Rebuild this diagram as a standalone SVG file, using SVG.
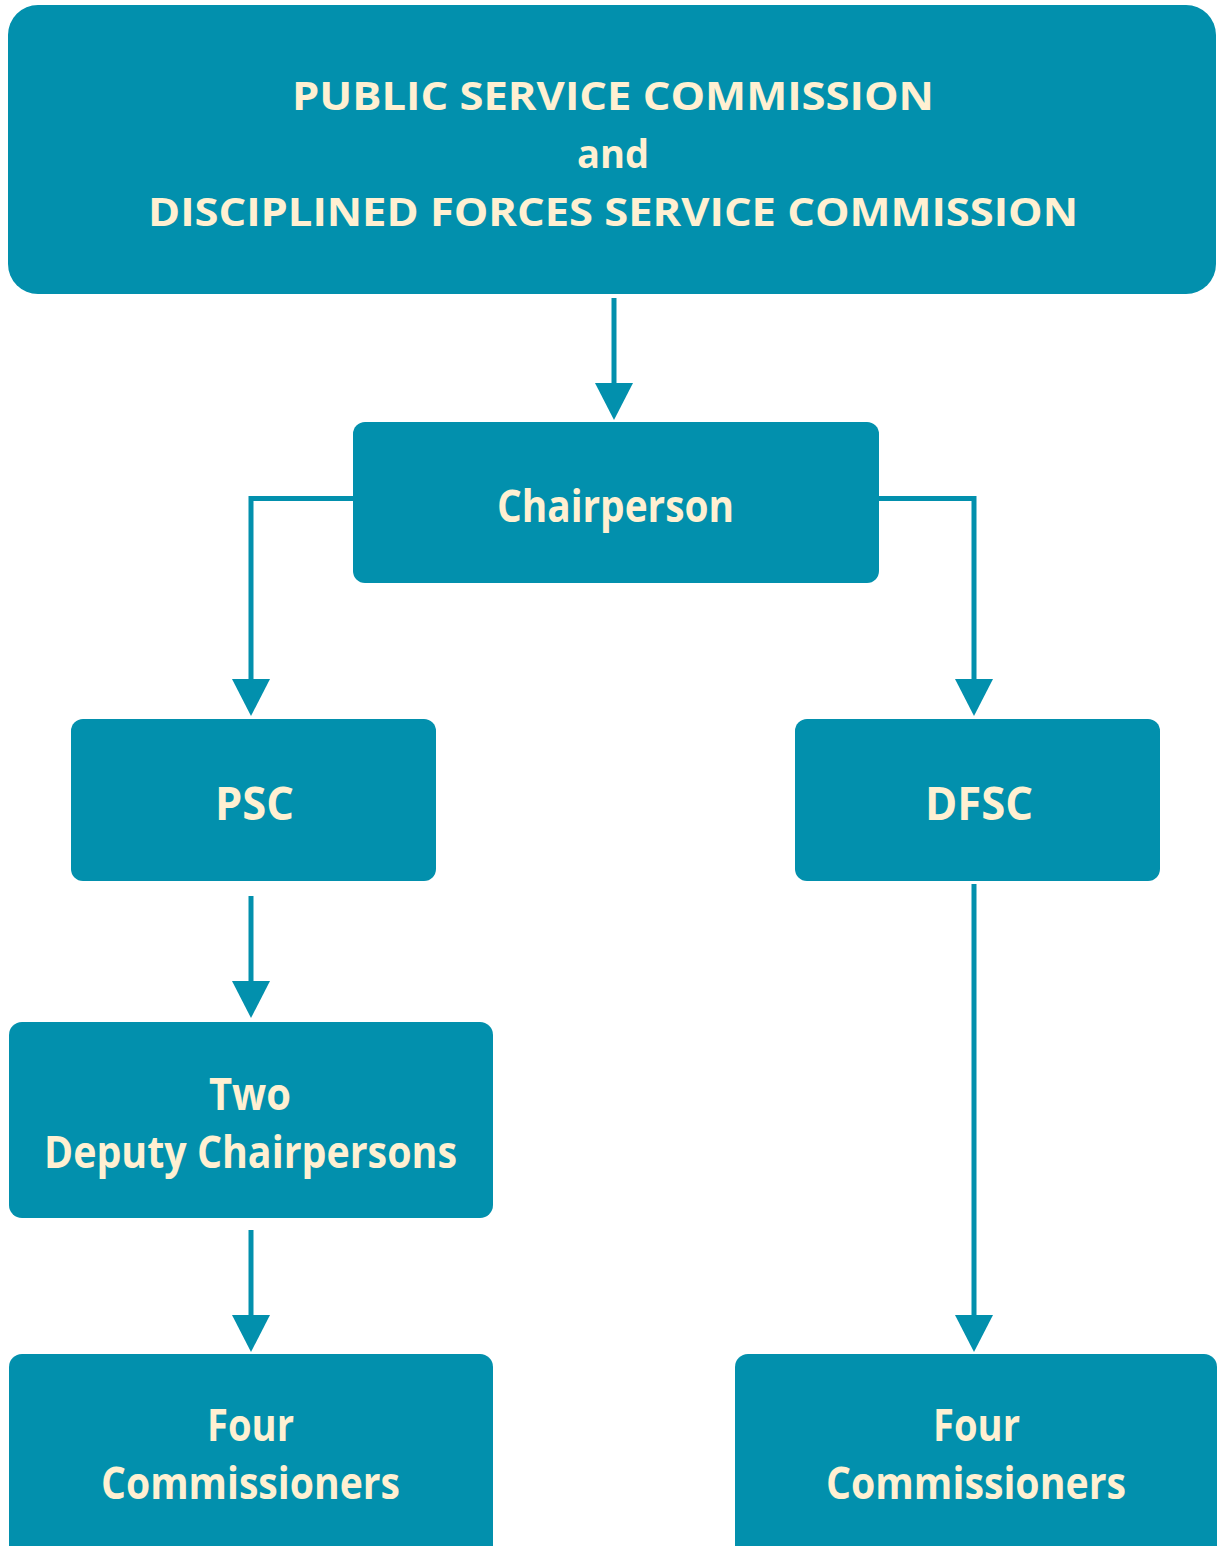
<svg xmlns="http://www.w3.org/2000/svg" width="1217" height="1546" viewBox="0 0 1217 1546">
  <style>
    .box { fill: #0290ad; }
    .lbl { font-family: "Open Sans", "Liberation Sans", sans-serif; font-weight: 700; fill: #fff0d2; text-anchor: middle; }
    .conn { fill: none; stroke: #0290ad; stroke-width: 5; stroke-linejoin: miter; }
  </style>
  <defs>
    <marker id="arrow" markerUnits="userSpaceOnUse" markerWidth="40" markerHeight="40" refX="0" refY="0" orient="auto" overflow="visible">
      <path d="M0,-19 L37,0 L0,19 z" fill="#0290ad"/>
    </marker>
  </defs>
  <rect width="1217" height="1546" fill="#ffffff"/>

  <g id="connectors">
    <path class="conn" d="M614,298 V383" marker-end="url(#arrow)"/>
    <path class="conn" d="M353,498.5 H251 V679" marker-end="url(#arrow)"/>
    <path class="conn" d="M879,498.5 H974 V679" marker-end="url(#arrow)"/>
    <path class="conn" d="M251,896 V981" marker-end="url(#arrow)"/>
    <path class="conn" d="M251,1230 V1315" marker-end="url(#arrow)"/>
    <path class="conn" d="M974,884 V1315" marker-end="url(#arrow)"/>
  </g>

  <g id="commission">
    <rect class="box" x="8" y="5" width="1208" height="289" rx="30" ry="30"/>
    <text class="lbl" font-size="40" x="613" y="110" textLength="642" lengthAdjust="spacingAndGlyphs">PUBLIC SERVICE COMMISSION</text>
    <text class="lbl" font-size="40" x="613" y="168" textLength="72" lengthAdjust="spacingAndGlyphs">and</text>
    <text class="lbl" font-size="40" x="613" y="226" textLength="930" lengthAdjust="spacingAndGlyphs">DISCIPLINED FORCES SERVICE COMMISSION</text>
  </g>

  <g id="chairperson">
    <rect class="box" x="353" y="422" width="526" height="161" rx="12" ry="12"/>
    <text class="lbl" font-size="44" x="615.5" y="522" textLength="237" lengthAdjust="spacingAndGlyphs">Chairperson</text>
  </g>

  <g id="psc">
    <rect class="box" x="71" y="719" width="365" height="162" rx="12" ry="12"/>
    <text class="lbl" font-size="46" x="254.5" y="820" textLength="79" lengthAdjust="spacingAndGlyphs">PSC</text>
  </g>

  <g id="dfsc">
    <rect class="box" x="795" y="719" width="365" height="162" rx="12" ry="12"/>
    <text class="lbl" font-size="46" x="979" y="820" textLength="108" lengthAdjust="spacingAndGlyphs">DFSC</text>
  </g>

  <g id="deputy-chairpersons">
    <rect class="box" x="9" y="1022" width="484" height="196" rx="13" ry="13"/>
    <text class="lbl" font-size="44" x="250" y="1110" textLength="82" lengthAdjust="spacingAndGlyphs">Two</text>
    <text class="lbl" font-size="44" x="250.5" y="1168" textLength="413" lengthAdjust="spacingAndGlyphs">Deputy Chairpersons</text>
  </g>

  <g id="psc-commissioners">
    <rect class="box" x="9" y="1354" width="484" height="210" rx="13" ry="13"/>
    <text class="lbl" font-size="44" x="250.5" y="1441" textLength="87" lengthAdjust="spacingAndGlyphs">Four</text>
    <text class="lbl" font-size="44" x="250.5" y="1499" textLength="299" lengthAdjust="spacingAndGlyphs">Commissioners</text>
  </g>

  <g id="dfsc-commissioners">
    <rect class="box" x="735" y="1354" width="482" height="210" rx="13" ry="13"/>
    <text class="lbl" font-size="44" x="976.5" y="1441" textLength="87" lengthAdjust="spacingAndGlyphs">Four</text>
    <text class="lbl" font-size="44" x="976" y="1499" textLength="300" lengthAdjust="spacingAndGlyphs">Commissioners</text>
  </g>
</svg>
